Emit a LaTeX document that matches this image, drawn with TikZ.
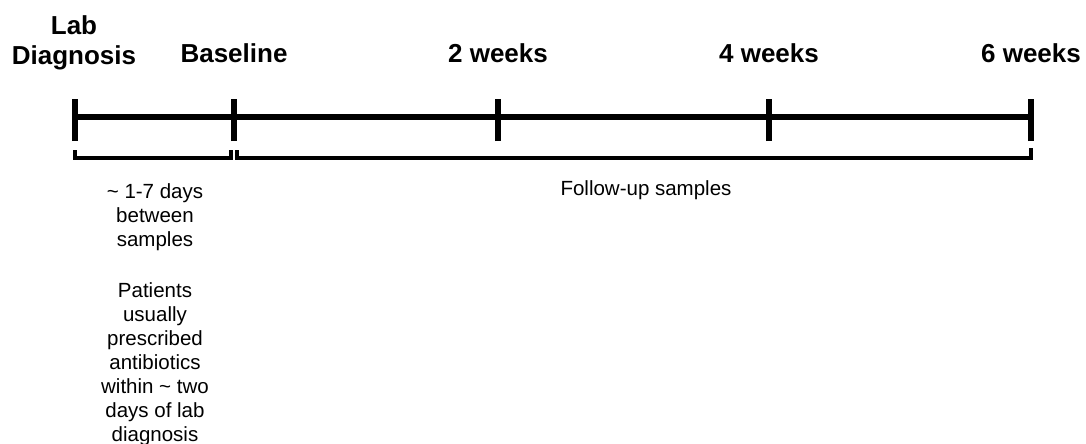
\documentclass[tikz,border=0pt]{standalone}
\usepackage{fontspec}
\setmainfont{Liberation Sans}
\begin{document}
\begin{tikzpicture}[x=1pt,y=-1pt,
  axisline/.style={line width=5.5pt},
  tickmark/.style={line width=6pt},
  bracketline/.style={line width=3.5pt},
  milestone/.style={font=\bfseries\fontsize{26}{30}\selectfont, inner sep=0pt, align=center},
  note/.style={font=\fontsize{20.5}{24}\selectfont, inner sep=0pt, align=center}]
\useasboundingbox (0,0) rectangle (1086,444);

% tick positions on the time axis
\coordinate (t0) at (75,117);
\coordinate (t1) at (234,117);
\coordinate (t2) at (498,117);
\coordinate (t3) at (769,117);
\coordinate (t4) at (1031,117);

% main axis and ticks
\draw[axisline] (t0) -- (t4);
\foreach \t in {t0,t1,t2,t3,t4}
  \draw[tickmark] ([yshift=-24pt]\t) -- ([yshift=18pt]\t);

% milestone labels
\node[milestone, anchor=north] (lab) at (74,15) {Lab\\Diagnosis};
\node[milestone, anchor=base] (base) at (234,63) {Baseline};
\node[milestone, anchor=base] (w2) at (498,63) {2 weeks};
\node[milestone, anchor=base] (w4) at (769,63) {4 weeks};
\node[milestone, anchor=base] (w6) at (1031,63) {6 weeks};

% brackets under the axis
\coordinate (b0) at (75,150);
\coordinate (b1) at (231,150);
\coordinate (b2) at (237,150);
\coordinate (b3) at (1031,148);
\draw[bracketline] (b0) -- ++(0,8) -| (b1);
\draw[bracketline] (b2) -- ++(0,8) -| (b3);

% notes
\node[note, anchor=north] (gap) at (155,183)
  {\textasciitilde\ 1-7 days\\between\\samples\\[27pt]Patients\\usually\\prescribed\\antibiotics\\within \textasciitilde\ two\\days of lab\\diagnosis};
\node[note, anchor=base] (follow) at (646,195) {Follow-up samples};
\end{tikzpicture}
\end{document}
